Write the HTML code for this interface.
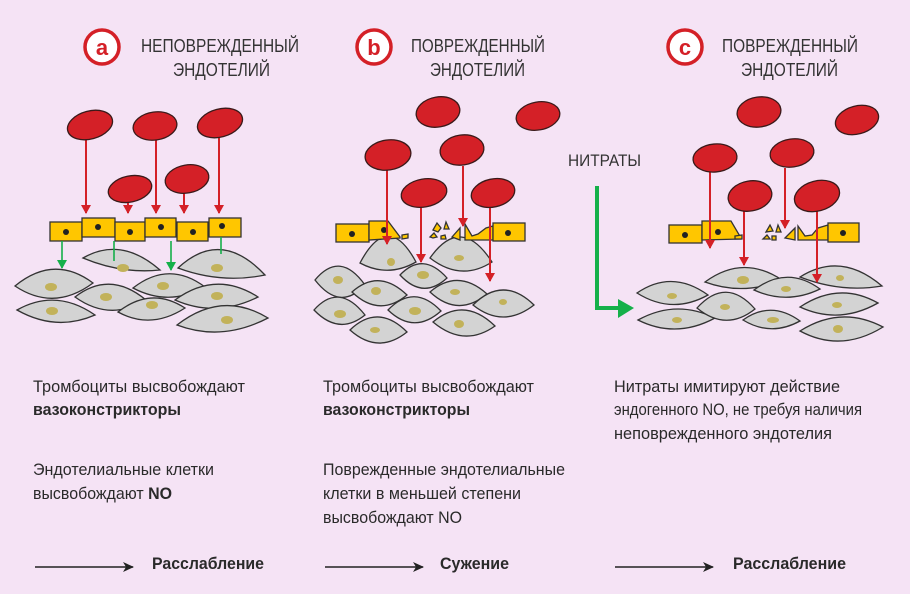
<!DOCTYPE html>
<html><head><meta charset="utf-8"><style>
html,body{margin:0;padding:0;background:#f5e3f5;}
svg{display:block;}
text{font-family:"Liberation Sans Narrow","Liberation Sans",sans-serif;fill:#2a2a2a;}
.h{font-size:18px;fill:#333;}
.t{font-size:17px;}
.b{font-size:17px;font-weight:bold;}
.p{fill:#d42027;stroke:#3a1a1a;stroke-width:1.3;}
.m{fill:#d3d3d3;stroke:#333;stroke-width:1.3;}
.n{fill:#c2b25a;}
.e{fill:#ffc600;stroke:#333;stroke-width:1.3;}
.r{stroke:#d42027;stroke-width:2;fill:none;}
.g{stroke:#15b04a;stroke-width:1.6;fill:none;}
</style></head><body>
<svg width="910" height="594" viewBox="0 0 910 594" xmlns="http://www.w3.org/2000/svg">
<defs>
<marker id="ra" markerWidth="10" markerHeight="10" refX="8" refY="5" orient="auto" markerUnits="userSpaceOnUse"><path d="M0,0 L9,5 L0,10 Z" fill="#d42027"/></marker>
<marker id="ga" markerWidth="10" markerHeight="10" refX="8" refY="5" orient="auto" markerUnits="userSpaceOnUse"><path d="M0,0 L9,5 L0,10 Z" fill="#15b04a"/></marker>
<marker id="ka" markerWidth="12" markerHeight="10" refX="10" refY="5" orient="auto" markerUnits="userSpaceOnUse"><path d="M0,0 L11,5 L0,10 L3,5 Z" fill="#222"/></marker>
</defs>

<!-- headers -->
<circle cx="102" cy="47" r="17" fill="#fff" stroke="#d42027" stroke-width="3.5"/>
<text x="102" y="55" text-anchor="middle" style="font-size:22px;font-weight:bold;fill:#d42027;font-family:'Liberation Sans',sans-serif">a</text>
<text class="h" x="141" y="52" textLength="158" lengthAdjust="spacingAndGlyphs">НЕПОВРЕЖДЕННЫЙ</text>
<text class="h" x="173" y="76" textLength="97" lengthAdjust="spacingAndGlyphs">ЭНДОТЕЛИЙ</text>

<circle cx="374" cy="47" r="17" fill="#fff" stroke="#d42027" stroke-width="3.5"/>
<text x="374" y="55" text-anchor="middle" style="font-size:22px;font-weight:bold;fill:#d42027;font-family:'Liberation Sans',sans-serif">b</text>
<text class="h" x="411" y="52" textLength="134" lengthAdjust="spacingAndGlyphs">ПОВРЕЖДЕННЫЙ</text>
<text class="h" x="430" y="76" textLength="95" lengthAdjust="spacingAndGlyphs">ЭНДОТЕЛИЙ</text>

<circle cx="685" cy="47" r="17" fill="#fff" stroke="#d42027" stroke-width="3.5"/>
<text x="685" y="55" text-anchor="middle" style="font-size:22px;font-weight:bold;fill:#d42027;font-family:'Liberation Sans',sans-serif">c</text>
<text class="h" x="722" y="52" textLength="136" lengthAdjust="spacingAndGlyphs">ПОВРЕЖДЕННЫЙ</text>
<text class="h" x="741" y="76" textLength="97" lengthAdjust="spacingAndGlyphs">ЭНДОТЕЛИЙ</text>

<!-- ===== Panel A ===== -->
<g>
<path class="m" d="M15,286 Q54,254 93,283 Q54,312 15,286Z"/><ellipse class="n" cx="51" cy="287" rx="6" ry="4"/>
<path class="m" d="M83,258 Q121,236 160,270 Q121,274 83,258Z"/><ellipse class="n" cx="123" cy="268" rx="6" ry="4"/>
<path class="m" d="M75,297 Q110,270 146,300 Q110,322 75,297Z"/><ellipse class="n" cx="106" cy="297" rx="6" ry="4"/>
<path class="m" d="M17,310 Q56,288 95,315 Q56,332 17,310Z"/><ellipse class="n" cx="52" cy="311" rx="6" ry="4"/>
<path class="m" d="M133,288 Q169,260 205,287 Q169,307 133,288Z"/><ellipse class="n" cx="163" cy="286" rx="6" ry="4"/>
<path class="m" d="M118,312 Q151,286 185,308 Q151,330 118,312Z"/><ellipse class="n" cx="152" cy="305" rx="6" ry="4"/>
<path class="m" d="M178,268 Q221,228 265,275 Q221,284 178,268Z"/><ellipse class="n" cx="217" cy="268" rx="6" ry="4"/>
<path class="m" d="M175,300 Q216,270 258,297 Q216,318 175,300Z"/><ellipse class="n" cx="217" cy="296" rx="6" ry="4"/>
<path class="m" d="M177,325 Q222,290 268,318 Q222,342 177,325Z"/><ellipse class="n" cx="227" cy="320" rx="6" ry="4"/>
</g>
<g>
<rect class="e" x="50" y="222" width="32" height="19"/><circle cx="66" cy="232" r="3" fill="#222"/>
<rect class="e" x="82" y="218" width="33" height="19"/><circle cx="98" cy="227" r="3" fill="#222"/>
<rect class="e" x="115" y="222" width="30" height="19"/><circle cx="130" cy="232" r="3" fill="#222"/>
<rect class="e" x="145" y="218" width="31" height="19"/><circle cx="161" cy="227" r="3" fill="#222"/>
<rect class="e" x="177" y="222" width="31" height="19"/><circle cx="193" cy="232" r="3" fill="#222"/>
<rect class="e" x="209" y="218" width="32" height="19"/><circle cx="222" cy="226" r="3" fill="#222"/>
</g>
<line class="g" x1="62" y1="241" x2="62" y2="268" marker-end="url(#ga)"/>
<line class="g" x1="114" y1="241" x2="114" y2="261"/>
<line class="g" x1="171" y1="241" x2="171" y2="270" marker-end="url(#ga)"/>
<line class="g" x1="221" y1="237" x2="221" y2="254"/>
<line class="r" x1="86" y1="138" x2="86" y2="213" marker-end="url(#ra)"/>
<line class="r" x1="156" y1="138" x2="156" y2="213" marker-end="url(#ra)"/>
<line class="r" x1="219" y1="138" x2="219" y2="213" marker-end="url(#ra)"/>
<line class="r" x1="128" y1="200" x2="128" y2="213" marker-end="url(#ra)"/>
<line class="r" x1="184" y1="190" x2="184" y2="213" marker-end="url(#ra)"/>
<ellipse class="p" cx="90" cy="125" rx="23" ry="14" transform="rotate(-15 90 125)"/>
<ellipse class="p" cx="155" cy="126" rx="22" ry="14" transform="rotate(-8 155 126)"/>
<ellipse class="p" cx="220" cy="123" rx="23" ry="14" transform="rotate(-15 220 123)"/>
<ellipse class="p" cx="130" cy="189" rx="22" ry="13" transform="rotate(-12 130 189)"/>
<ellipse class="p" cx="187" cy="179" rx="22" ry="14" transform="rotate(-10 187 179)"/>

<!-- ===== Panel B ===== -->
<g>
<path class="m" d="M360,263 Q388,210 416,262 Q388,278 360,263Z"/><ellipse class="n" cx="391" cy="262" rx="4" ry="4"/>
<path class="m" d="M430,258 Q461,214 492,262 Q461,282 430,258Z"/><ellipse class="n" cx="459" cy="258" rx="5" ry="3"/>
<path class="m" d="M315,280 Q340,250 365,285 Q340,312 315,280Z"/><ellipse class="n" cx="338" cy="280" rx="5" ry="4"/>
<path class="m" d="M400,275 Q423,251 447,278 Q423,300 400,275Z"/><ellipse class="n" cx="423" cy="275" rx="6" ry="4"/>
<path class="m" d="M352,292 Q379,268 407,295 Q379,318 352,292Z"/><ellipse class="n" cx="376" cy="291" rx="5" ry="4"/>
<path class="m" d="M430,292 Q458,268 487,294 Q458,318 430,292Z"/><ellipse class="n" cx="455" cy="292" rx="5" ry="3"/>
<path class="m" d="M473,305 Q503,275 534,305 Q503,329 473,305Z"/><ellipse class="n" cx="503" cy="302" rx="4" ry="3"/>
<path class="m" d="M314,310 Q339,282 365,315 Q339,336 314,310Z"/><ellipse class="n" cx="340" cy="314" rx="6" ry="4"/>
<path class="m" d="M388,310 Q414,283 441,311 Q414,335 388,310Z"/><ellipse class="n" cx="415" cy="311" rx="6" ry="4"/>
<path class="m" d="M350,330 Q378,303 407,332 Q378,355 350,330Z"/><ellipse class="n" cx="375" cy="330" rx="5" ry="3"/>
<path class="m" d="M433,322 Q464,296 495,326 Q464,348 433,322Z"/><ellipse class="n" cx="459" cy="324" rx="5" ry="4"/>
</g>
<g>
<rect class="e" x="336" y="224" width="33" height="18"/><circle cx="352" cy="234" r="3" fill="#222"/>
<polygon class="e" points="369,221 388,221 400,237 400,238 369,240"/><circle cx="384" cy="230" r="3" fill="#222"/>
<polygon class="e" points="402,235 408,234 408,238 402,239"/>
<polygon class="e" points="433,230 437,223 441,228 438,232"/>
<polygon class="e" points="444,229 446,222 449,229"/>
<polygon class="e" points="430,237 434,233 437,237 433,238"/>
<polygon class="e" points="441,236 445,235 446,239 441,239"/>
<polygon class="e" points="452,237 460,228 460,240"/>
<polygon class="e" points="465,240 465,224 472,236 478,234 486,228 493,226 493,240"/>
<rect class="e" x="493" y="223" width="32" height="18"/><circle cx="508" cy="233" r="3" fill="#222"/>
</g>
<line class="r" x1="387" y1="168" x2="387" y2="244" marker-end="url(#ra)"/>
<line class="r" x1="421" y1="206" x2="421" y2="262" marker-end="url(#ra)"/>
<line class="r" x1="463" y1="166" x2="463" y2="226" marker-end="url(#ra)"/>
<line class="r" x1="490" y1="206" x2="490" y2="281" marker-end="url(#ra)"/>
<ellipse class="p" cx="438" cy="112" rx="22" ry="15" transform="rotate(-10 438 112)"/>
<ellipse class="p" cx="538" cy="116" rx="22" ry="14" transform="rotate(-10 538 116)"/>
<ellipse class="p" cx="388" cy="155" rx="23" ry="15" transform="rotate(-8 388 155)"/>
<ellipse class="p" cx="462" cy="150" rx="22" ry="15" transform="rotate(-8 462 150)"/>
<ellipse class="p" cx="424" cy="193" rx="23" ry="14" transform="rotate(-10 424 193)"/>
<ellipse class="p" cx="493" cy="193" rx="22" ry="14" transform="rotate(-12 493 193)"/>

<!-- ===== Panel C ===== -->
<text class="t" x="568" y="166" textLength="73" lengthAdjust="spacingAndGlyphs" style="font-size:17px;fill:#333">НИТРАТЫ</text>
<path d="M597,186 L597,308 L622,308" stroke="#15b04a" stroke-width="4" fill="none"/>
<path d="M618,299 L634,308 L618,318 Z" fill="#15b04a"/>
<g>
<path class="m" d="M637,293 Q672,269 708,295 Q672,315 637,293Z"/><ellipse class="n" cx="672" cy="296" rx="5" ry="3"/>
<path class="m" d="M705,282 Q743,254 782,280 Q743,296 705,282Z"/><ellipse class="n" cx="743" cy="280" rx="6" ry="4"/>
<path class="m" d="M754,290 Q787,265 820,289 Q787,305 754,290Z"/><ellipse class="n" cx="786" cy="289" rx="5" ry="3"/>
<path class="m" d="M800,277 Q841,251 882,286 Q841,293 800,277Z"/><ellipse class="n" cx="840" cy="278" rx="4" ry="3"/>
<path class="m" d="M638,320 Q676,299 715,318 Q676,339 638,320Z"/><ellipse class="n" cx="677" cy="320" rx="5" ry="3"/>
<path class="m" d="M697,308 Q726,276 755,309 Q726,332 697,308Z"/><ellipse class="n" cx="725" cy="307" rx="5" ry="3"/>
<path class="m" d="M743,320 Q771,300 800,321 Q771,337 743,320Z"/><ellipse class="n" cx="773" cy="320" rx="6" ry="3"/>
<path class="m" d="M800,307 Q839,281 878,303 Q839,325 800,307Z"/><ellipse class="n" cx="837" cy="305" rx="5" ry="3"/>
<path class="m" d="M800,331 Q841,305 883,327 Q841,353 800,331Z"/><ellipse class="n" cx="838" cy="329" rx="5" ry="4"/>
</g>
<g>
<rect class="e" x="669" y="225" width="33" height="18"/><circle cx="685" cy="235" r="3" fill="#222"/>
<polygon class="e" points="702,221 731,221 741,238 741,239 702,240"/><circle cx="718" cy="232" r="3" fill="#222"/>
<polygon class="e" points="735,236 742,235 742,239 735,239"/>
<polygon class="e" points="766,232 770,225 773,231"/>
<polygon class="e" points="776,232 778,225 781,232"/>
<polygon class="e" points="763,239 767,235 770,239"/>
<polygon class="e" points="772,236 776,236 776,240 772,240"/>
<polygon class="e" points="785,238 795,228 795,240"/>
<polygon class="e" points="798,240 798,226 805,236 812,235 818,228 828,225 828,240"/>
<rect class="e" x="828" y="223" width="31" height="19"/><circle cx="843" cy="233" r="3" fill="#222"/>
</g>
<line class="r" x1="710" y1="170" x2="710" y2="248" marker-end="url(#ra)"/>
<line class="r" x1="744" y1="208" x2="744" y2="265" marker-end="url(#ra)"/>
<line class="r" x1="785" y1="168" x2="785" y2="228" marker-end="url(#ra)"/>
<line class="r" x1="817" y1="208" x2="817" y2="282" marker-end="url(#ra)"/>
<ellipse class="p" cx="759" cy="112" rx="22" ry="15" transform="rotate(-8 759 112)"/>
<ellipse class="p" cx="857" cy="120" rx="22" ry="14" transform="rotate(-15 857 120)"/>
<ellipse class="p" cx="715" cy="158" rx="22" ry="14" transform="rotate(-5 715 158)"/>
<ellipse class="p" cx="792" cy="153" rx="22" ry="14" transform="rotate(-8 792 153)"/>
<ellipse class="p" cx="750" cy="196" rx="22" ry="15" transform="rotate(-10 750 196)"/>
<ellipse class="p" cx="817" cy="196" rx="23" ry="15" transform="rotate(-15 817 196)"/>

<!-- ===== Text ===== -->
<text class="t" x="33" y="392" textLength="212" lengthAdjust="spacingAndGlyphs">Тромбоциты высвобождают</text>
<text class="b" x="33" y="415" textLength="148" lengthAdjust="spacingAndGlyphs">вазоконстрикторы</text>
<text class="t" x="33" y="475" textLength="181" lengthAdjust="spacingAndGlyphs">Эндотелиальные клетки</text>
<text class="t" x="33" y="499" textLength="139" lengthAdjust="spacingAndGlyphs">высвобождают <tspan style="font-weight:bold">NO</tspan></text>
<line x1="35" y1="567" x2="133" y2="567" stroke="#222" stroke-width="1.6" marker-end="url(#ka)"/>
<text class="b" x="152" y="569" textLength="112" lengthAdjust="spacingAndGlyphs">Расслабление</text>

<text class="t" x="323" y="392" textLength="211" lengthAdjust="spacingAndGlyphs">Тромбоциты высвобождают</text>
<text class="b" x="323" y="415" textLength="147" lengthAdjust="spacingAndGlyphs">вазоконстрикторы</text>
<text class="t" x="323" y="475" textLength="242" lengthAdjust="spacingAndGlyphs">Поврежденные эндотелиальные</text>
<text class="t" x="323" y="499" textLength="198" lengthAdjust="spacingAndGlyphs">клетки в меньшей степени</text>
<text class="t" x="323" y="523" textLength="139" lengthAdjust="spacingAndGlyphs">высвобождают NO</text>
<line x1="325" y1="567" x2="423" y2="567" stroke="#222" stroke-width="1.6" marker-end="url(#ka)"/>
<text class="b" x="440" y="569" textLength="69" lengthAdjust="spacingAndGlyphs">Сужение</text>

<text class="t" x="614" y="392" textLength="226" lengthAdjust="spacingAndGlyphs">Нитраты имитируют действие</text>
<text class="t" x="614" y="415" textLength="248" lengthAdjust="spacingAndGlyphs">эндогенного NO, не требуя наличия</text>
<text class="t" x="614" y="439" textLength="218" lengthAdjust="spacingAndGlyphs">неповрежденного эндотелия</text>
<line x1="615" y1="567" x2="713" y2="567" stroke="#222" stroke-width="1.6" marker-end="url(#ka)"/>
<text class="b" x="733" y="569" textLength="113" lengthAdjust="spacingAndGlyphs">Расслабление</text>
</svg>
</body></html>
